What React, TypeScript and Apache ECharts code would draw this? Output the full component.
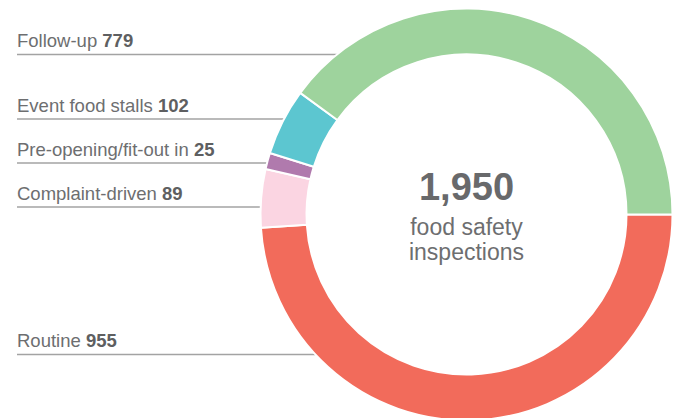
import React, { useEffect, useRef } from "react";
import * as echarts from "echarts";

const categories = ["Routine", "Complaint-driven", "Pre-opening/fit-out in", "Event food stalls", "Follow-up"];
const values = [955, 89, 25, 102, 779];
const totalLabel = "1,950";
const centerLines = ["food safety", "inspections"];

const palette = ["#f26b5b", "#fbd5e2", "#b07aad", "#5cc6d0", "#9ed39d"];
const labelLineY = [354.5, 207, 163, 119, 54.5];

const CX = 466.5;
const CY = 214.5;
const R_OUT = 206;
const R_IN = 160;
const FONT = "'Liberation Sans', Arial, Helvetica, sans-serif";
const TEXT_COLOR = "#6d6e70";

export default function App() {
  const ref = useRef<HTMLDivElement>(null);
  useEffect(() => {
    if (!ref.current) return;
    const chart = echarts.init(ref.current, undefined, { renderer: "svg" });
    const graphics: any[] = [];
    categories.forEach((name, i) => {
      const y = labelLineY[i];
      const dy = y - CY;
      const xEnd = CX - Math.sqrt(R_OUT * R_OUT - dy * dy);
      graphics.push({
        type: "line",
        z: 0,
        shape: { x1: 17, y1: y, x2: xEnd, y2: y },
        style: { stroke: "#a3a3a3", lineWidth: 1.5 },
      });
      graphics.push({
        type: "text",
        x: 17,
        y: y - 14,
        style: {
          text: `{a|${name} }{b|${values[i]}}`,
          verticalAlign: "middle",
          align: "left",
          rich: {
            a: { fontSize: 18.5, fontFamily: FONT, fill: TEXT_COLOR, fontWeight: "normal" },
            b: { fontSize: 18.5, fontFamily: FONT, fill: "#5e5f61", fontWeight: "bold" },
          },
        },
      });
    });
    graphics.push({
      type: "text",
      x: CX,
      y: 187,
      style: {
        text: totalLabel,
        align: "center",
        verticalAlign: "middle",
        fontSize: 38,
        fontWeight: "bold",
        fontFamily: FONT,
        fill: "#68696b",
      },
    });
    graphics.push({
      type: "text",
      x: CX,
      y: 239.5,
      style: {
        text: centerLines.join("\n"),
        align: "center",
        verticalAlign: "middle",
        fontSize: 23,
        lineHeight: 25,
        fontFamily: FONT,
        fill: TEXT_COLOR,
      },
    });

    chart.setOption({
      animation: false,
      graphic: graphics,
      series: [
        {
          type: "pie",
          center: [CX, CY],
          radius: [R_IN, R_OUT],
          startAngle: 0,
          clockwise: true,
          label: { show: false },
          labelLine: { show: false },
          emphasis: { disabled: true },
          itemStyle: { borderColor: "#ffffff", borderWidth: 2 },
          data: categories.map((name, i) => ({
            name,
            value: values[i],
            itemStyle: { color: palette[i] },
          })),
        },
      ],
    });
    return () => chart.dispose();
  }, []);
  return (
    <div
      ref={ref}
      style={{ position: "fixed", left: 0, top: 0, width: 677, height: 418, background: "#fff" }}
    />
  );
}
